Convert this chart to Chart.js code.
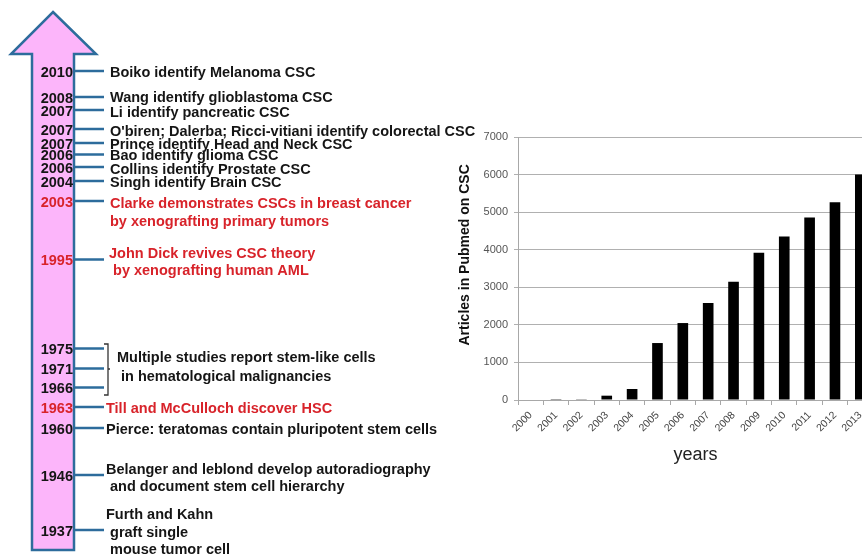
<!DOCTYPE html>
<html>
<head>
<meta charset="utf-8">
<title>CSC timeline and Pubmed articles</title>
<script src="https://cdn.jsdelivr.net/npm/chart.js@4.4.0/dist/chart.umd.min.js"></script>
<style>
    html, body { margin: 0; padding: 0; background: #fff; overflow: hidden; width: 862px; height: 556px; }
    #csc_chart { position: absolute; left: 0; top: 0; }
</style>
</head>
<body>
<canvas id="csc_chart" width="900" height="556"></canvas>
<script>
// bar chart data
const years = ['2000', '2001', '2002', '2003', '2004', '2005', '2006', '2007', '2008', '2009', '2010', '2011', '2012', '2013']
const articles = [0, 4, 20, 115, 293, 1516, 2048, 2585, 3146, 3918, 4353, 4858, 5266, 6000]
const articleTicks = [0, 1000, 2000, 3000, 4000, 5000, 6000, 7000]

// timeline data
const eventYears = ['2010', '2008', '2007', '2007', '2007', '2006', '2006', '2004', '2003', '1995', '1975', '1971', '1966', '1963', '1960', '1946', '1937']
const eventNotes = [
    ['Boiko identify Melanoma CSC'],
    ['Wang identify glioblastoma CSC'],
    ['Li identify pancreatic CSC'],
    ["O'biren; Dalerba; Ricci-vitiani identify colorectal CSC"],
    ['Prince identify Head and Neck CSC'],
    ['Bao identify glioma CSC'],
    ['Collins identify Prostate CSC'],
    ['Singh identify Brain CSC'],
    ['Clarke demonstrates CSCs in breast cancer', 'by xenografting primary tumors'],
    ['John Dick revives CSC theory', ' by xenografting human AML'],
    [],
    [],
    [],
    ['Till and McCulloch discover HSC'],
    ['Pierce: teratomas contain pluripotent stem cells'],
    ['Belanger and leblond develop autoradiography', ' and document stem cell hierarchy'],
    ['Furth and Kahn', ' graft single', ' mouse tumor cell']
]
const eventKey = [false, false, false, false, false, false, false, false, true, true, false, false, false, true, false, false, false]
const groupNote = ['Multiple studies report stem-like cells', ' in hematological malignancies']

// layout of the timeline (pixels)
const tickY = [71, 97, 110, 129, 143, 154.5, 167, 181, 201, 259.5, 348.5, 368.5, 387.5, 407, 428, 475, 530]
const noteY = [73, 97.5, 112.5, 131.5, 144.5, 156, 169.5, 182.5, 204, 253.5, 0, 0, 0, 408.5, 429.5, 469.5, 515]
const noteX = [110, 110, 110, 110, 110, 110, 110, 110, 110, 109, 0, 0, 0, 106, 106, 106, 106]

const DARK = '#151515'
const RED = '#d8232a'
const BLUE = '#2d6c9c'

const timelinePlugin = {
    id: 'timeline',
    afterDraw(chart) {
        const ctx = chart.ctx
        ctx.save()

        // arrow
        ctx.beginPath()
        ctx.moveTo(53, 12)
        ctx.lineTo(96, 54)
        ctx.lineTo(74, 54)
        ctx.lineTo(74, 550)
        ctx.lineTo(32, 550)
        ctx.lineTo(32, 54)
        ctx.lineTo(11, 54)
        ctx.closePath()
        ctx.fillStyle = '#fcb5fa'
        ctx.fill()
        ctx.lineWidth = 2.5
        ctx.strokeStyle = BLUE
        ctx.stroke()

        ctx.font = 'bold 14.5px "Liberation Sans", Arial, sans-serif'
        ctx.textBaseline = 'middle'
        eventYears.forEach((year, i) => {
            // tick
            ctx.beginPath()
            ctx.moveTo(74, tickY[i])
            ctx.lineTo(104, tickY[i])
            ctx.lineWidth = 2.5
            ctx.strokeStyle = BLUE
            ctx.stroke()

            ctx.fillStyle = eventKey[i] ? RED : DARK
            ctx.textAlign = 'right'
            ctx.fillText(year, 73, tickY[i] + 1.5)

            ctx.textAlign = 'left'
            eventNotes[i].forEach((line, j) => {
                ctx.fillText(line, noteX[i], noteY[i] + j * 17.7)
            })
        })

        // bracket for the 1966-1975 group
        ctx.beginPath()
        ctx.moveTo(104, 344)
        ctx.lineTo(108, 344)
        ctx.lineTo(108, 395)
        ctx.lineTo(104, 395)
        ctx.moveTo(108, 369)
        ctx.lineTo(110, 369)
        ctx.lineWidth = 1.3
        ctx.strokeStyle = '#333'
        ctx.stroke()
        ctx.fillStyle = DARK
        ctx.textAlign = 'left'
        groupNote.forEach((line, j) => {
            ctx.fillText(line, 117, 358 + j * 18.5)
        })

        ctx.restore()
    }
}

const CscController = {
    csc_chart: null,
    SetUpChart() {
        Chart.defaults.font.family = '"Liberation Sans", Arial, sans-serif'
        const ctx = document.getElementById('csc_chart').getContext('2d')
        CscController.csc_chart = new Chart(ctx, {
            type: 'bar',
            data: {
                labels: years,
                datasets: [{
                    label: 'Articles',
                    data: articles,
                    backgroundColor: '#000',
                    borderWidth: 0,
                    barPercentage: 0.42,
                    categoryPercentage: 1
                }]
            },
            options: {
                responsive: false,
                animation: false,
                devicePixelRatio: 1,
                layout: {
                    padding: {left: 453, top: 137, right: 27, bottom: 86}
                },
                plugins: {
                    legend: {display: false},
                    tooltip: {enabled: false}
                },
                scales: {
                    x: {
                        grid: {drawOnChartArea: false, tickLength: 5, color: '#a8a8a8'},
                        border: {color: '#a8a8a8'},
                        ticks: {
                            minRotation: 45, maxRotation: 45, padding: 4,
                            color: '#444', font: {size: 10.5}
                        },
                        title: {
                            display: true, text: 'years',
                            color: '#222', font: {size: 18}
                        },
                        afterFit(scale) { scale.height = 70 }
                    },
                    y: {
                        min: 0,
                        max: 7000,
                        afterBuildTicks(scale) {
                            scale.ticks = articleTicks.map(v => ({value: v}))
                        },
                        grid: {tickLength: 4, color: '#b0b0b0'},
                        border: {color: '#a8a8a8'},
                        ticks: {
                            padding: 6, color: '#555', font: {size: 11},
                            callback: (value) => String(value)
                        },
                        title: {
                            display: true,
                            text: '       Articles in Pubmed on CSC',
                            color: '#111',
                            font: {size: 14, weight: 'bold'}
                        },
                        afterFit(scale) { scale.width = 65 }
                    }
                }
            },
            plugins: [timelinePlugin]
        })
    },
    Run() {
        CscController.SetUpChart()
    }
}

CscController.Run()
</script>
</body>
</html>
